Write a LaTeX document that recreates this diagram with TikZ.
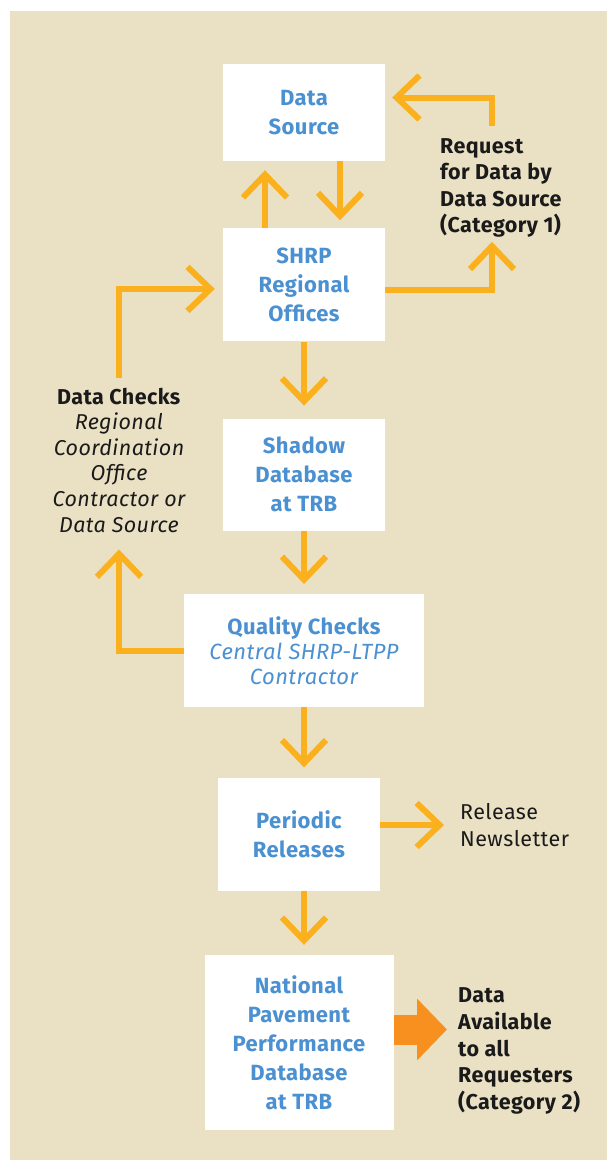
\documentclass[tikz,border=0pt]{standalone}
\usepackage{fontspec}
\IfFontExistsTF{FiraSans-Medium.otf}
  {\setmainfont{FiraSans}[Extension=.otf, UprightFont=*-Regular, BoldFont=*-Medium, ItalicFont=*-Italic, BoldItalicFont=*-MediumItalic, LetterSpace=2]}
  {\setmainfont{Fira Sans}[LetterSpace=2]}
\usepackage{xcolor}
\usepackage{tikz}
\usetikzlibrary{arrows.meta, positioning, calc}
\definecolor{panelbg}{HTML}{EAE1C5}
\definecolor{flowcol}{HTML}{FBB01E}
\definecolor{bigcol}{HTML}{F7901E}
\definecolor{boxtext}{HTML}{4B90D0}
\definecolor{darktext}{HTML}{1A1A1A}
\tikzset{
    stagebox/.style={rectangle, fill=white, text centered, align=center, inner sep=0pt, minimum width=162pt, minimum height=113pt, text=boxtext, font=\fontsize{22}{29}\selectfont\bfseries},
    notetext/.style={inner sep=0pt, text=darktext, font=\fontsize{21.5}{26.5}\selectfont},
    flow/.style={line width=6pt, color=flowcol, -{Straight Barb[length=23pt, width=44pt, line width=6pt]}},
    bigflow/.style={line width=30pt, color=bigcol, -{Triangle[length=30pt, width=60pt]}}
}

\begin{document}
\begin{tikzpicture}[x=1pt, y=-1pt]
    \useasboundingbox (0,0) rectangle (607,1160);
    \fill[panelbg] (10,11) rectangle (607,1160);

    \node (dsrc) [stagebox, minimum height=97pt] at (304,112.5) {Data\\Source};
    \node (shrp) [stagebox, below=67pt of dsrc] {SHRP\\Regional\\Offices};
    \node (sdb) [stagebox, minimum height=112pt, below=77pt of shrp] {Shadow\\Database\\at TRB};
    \node (qual) [stagebox, minimum width=240pt, below=63pt of sdb, font=\fontsize{22}{25}\selectfont\bfseries] {Quality Checks\\\mdseries\itshape Central SHRP-LTPP\\\mdseries\itshape Contractor};
    \node (per) [stagebox, below=70pt of qual, xshift=-5pt] {Periodic\\Releases};
    \node (nat) [stagebox, minimum width=189pt, minimum height=175pt, below=64pt of per] {National\\Pavement\\Performance\\Database\\at TRB};

    \node (req) [notetext, anchor=west, align=left, font=\fontsize{21.5}{26.5}\selectfont\bfseries] at (440,188) {Request\\for Data by\\Data Source\\(Category 1)};
    \node (chk) [notetext, align=center, font=\fontsize{21.5}{25.6}\selectfont] at (119,460) {\textbf{Data Checks}\\\itshape Regional\\\itshape Coordination\\\itshape Office\\\itshape Contractor or\\\itshape Data Source};
    \node (rel) [notetext, anchor=west, align=left] at (460,825) {Release\\Newsletter};
    \node (avail) [notetext, anchor=west, align=left, font=\fontsize{21.5}{26.6}\selectfont\bfseries] at (458,1051) {Data\\Available\\to all\\Requesters\\(Category 2)};

    % main chain
    \draw [flow, shorten >=9pt] ([xshift=-39pt]shrp.north) -- ([xshift=-39pt]dsrc.south);
    \draw [flow, shorten >=8pt] ([xshift=36pt]dsrc.south) -- ([xshift=36pt]shrp.north);
    \draw [flow, shorten >=13pt] (shrp) -- (sdb);
    \draw [flow, shorten >=10pt] (sdb) -- (qual);
    \draw [flow, shorten >=10pt] (qual.south) -- (qual.south |- per.north);
    \draw [flow, shorten >=10pt] ([xshift=5pt]per.south) -- ([xshift=5pt]nat.north);

    % side loops
    \draw [flow, shorten >=7pt] ([xshift=52pt,yshift=12pt]req.north west) |- ([yshift=15pt]dsrc.east);
    \draw [flow] ([yshift=-5pt]shrp.east) -| ([xshift=52pt,yshift=-4pt]req.south west);
    \draw [flow, shorten <=10pt, shorten >=8pt] (chk.north) |- ([yshift=-4pt]shrp.west);
    \draw [flow, shorten >=17pt] (qual.west) -| (chk.south);
    \draw [flow, shorten >=16pt] (per.east |- rel.west) -- (rel.west);
    \draw [bigflow, shorten >=11pt] ([yshift=13pt]nat.east) -- ([yshift=13pt]nat.east -| avail.west);
\end{tikzpicture}
\end{document}
